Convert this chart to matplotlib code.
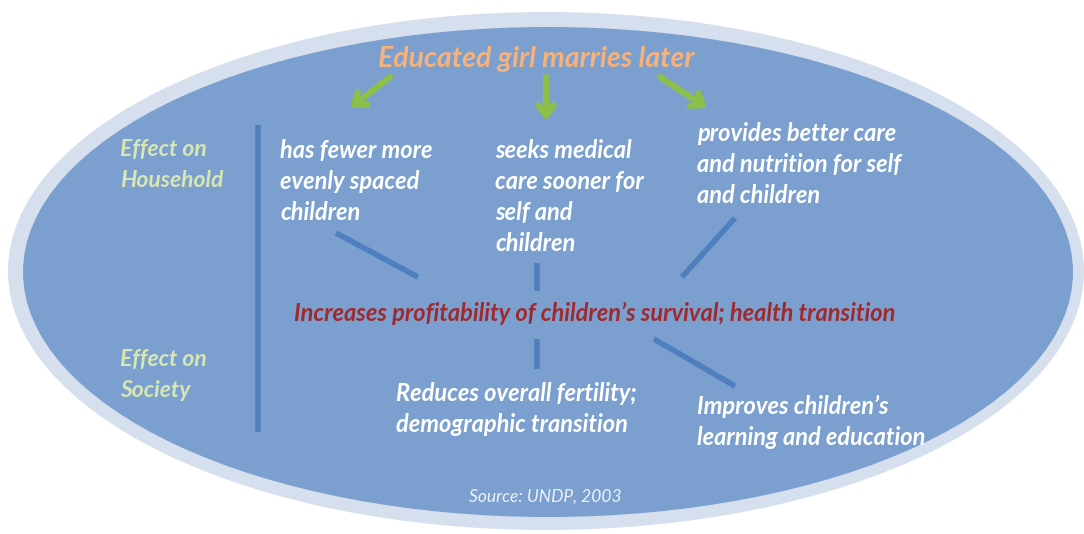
import matplotlib
matplotlib.use("Agg")
import matplotlib.pyplot as plt
from matplotlib.patches import Ellipse

# ---- content ----
title = "Educated girl marries later"
row_labels = ["Effect on\nHousehold", "Effect on\nSociety"]
household_effects = [
    "has fewer more\nevenly spaced\nchildren",
    "seeks medical\ncare sooner for\nself and\nchildren",
    "provides better care\nand nutrition for self\nand children",
]
central_effect = "Increases profitability of children\u2019s survival; health transition"
society_effects = [
    "Reduces overall fertility;\ndemographic transition",
    "Improves children\u2019s\nlearning and education",
]
source = "Source: UNDP, 2003"

# ---- styles ----
FONT = "Lato"
BG_LIGHT = "#d5dfee"
FILL = "#7b9fce"
LINE = "#4f7fbe"
ORANGE = "#f6b27c"
GREEN = "#8dbf4b"
LABEL = "#d7e6b2"
RED = "#9e2a2f"
WHITE = "white"

W, H = 1084, 534
fig = plt.figure(figsize=(W / 100, H / 100), dpi=100)
ax = fig.add_axes([0, 0, 1, 1])
ax.set_xlim(0, W)
ax.set_ylim(H, 0)
ax.axis("off")
fig.patch.set_facecolor("white")

# ellipses
ax.add_patch(Ellipse((546, 271), 1076, 518, facecolor=BG_LIGHT, edgecolor="none"))
ax.add_patch(Ellipse((548, 272), 1050, 490, facecolor=FILL, edgecolor="none"))

txt = dict(fontfamily=FONT, fontweight="bold", fontstyle="italic")

# title
ax.text(536, 59, title, color=ORANGE, fontsize=20.5, ha="center", va="center", **txt)

# arrows
for (x0, y0), (x1, y1) in [((390, 77), (350, 108)), ((546, 77), (546, 121)), ((660, 77), (707, 108))]:
    ax.annotate("", xy=(x1, y1), xytext=(x0, y0),
                arrowprops=dict(arrowstyle="->,head_length=0.75,head_width=0.55",
                                color=GREEN, lw=4.5, shrinkA=0, shrinkB=0))

# left labels
ax.text(120, 165, row_labels[0], color=LABEL, fontsize=16.5, ha="left", va="center",
        linespacing=1.55, **txt)
ax.text(120, 375, row_labels[1], color=LABEL, fontsize=16.5, ha="left", va="center",
        linespacing=1.55, **txt)

# vertical divider
ax.plot([258, 258], [125, 432], color=LINE, lw=4, solid_capstyle="butt")

# household effects
hx = [280, 495, 697]
hy = [181.5, 197, 164.5]
for x, y, s in zip(hx, hy, household_effects):
    ax.text(x, y, s, color=WHITE, fontsize=17, ha="left", va="center", linespacing=1.42, **txt)

# connectors
for (x0, y0), (x1, y1) in [((336, 233), (418, 277)), ((537, 263), (537, 291)),
                           ((735, 218), (682, 277)), ((537, 339), (537, 369)),
                           ((654, 339), (735, 386))]:
    ax.plot([x0, x1], [y0, y1], color=LINE, lw=4, solid_capstyle="butt")

# central effect
ax.text(595, 313, central_effect, color=RED, fontsize=17, ha="center", va="center", **txt)

# society effects
sx = [396, 697]
sy = [409, 422]
for x, y, s in zip(sx, sy, society_effects):
    ax.text(x, y, s, color=WHITE, fontsize=17, ha="left", va="center", linespacing=1.42, **txt)

# source
ax.text(545, 497, source, color="#eef2f8", fontsize=12.5, ha="center", va="center",
        fontfamily=FONT, fontstyle="italic")

fig.savefig("out.png", dpi=100, facecolor="white")
